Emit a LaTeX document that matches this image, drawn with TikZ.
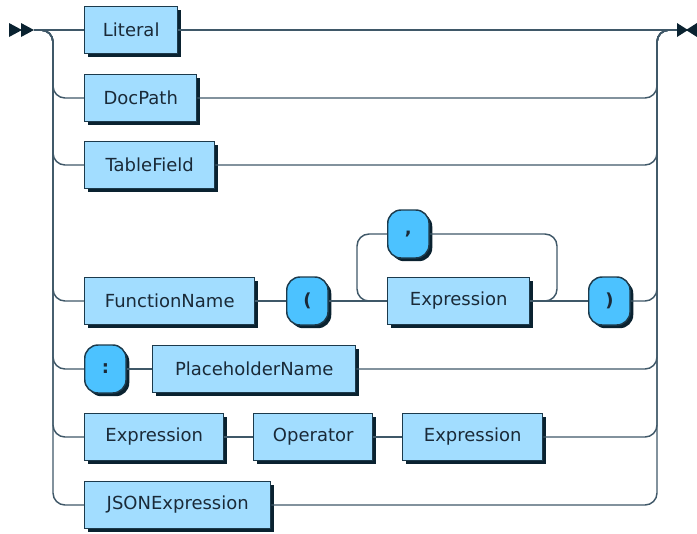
\documentclass[tikz,border=0pt]{standalone}
\usepackage{fontspec}
\setmainfont{DejaVu Sans}
\usetikzlibrary{shadows}
\definecolor{boxfill}{HTML}{A2DDFF}
\definecolor{tokfill}{HTML}{4CC2FF}
\definecolor{edgecol}{HTML}{1C3A4C}
\definecolor{railcol}{HTML}{3F5868}
\definecolor{shadecol}{HTML}{0A2230}
\definecolor{txtcol}{HTML}{1A2A38}
\begin{document}
\begin{tikzpicture}[x=0.75pt,y=-0.75pt,
  railline/.style={draw=railcol,line width=1.1pt,rounded corners=9pt},
  ntbox/.style={draw=edgecol,fill=boxfill,line width=1.1pt,anchor=west,
    minimum height=35.25pt,inner sep=0pt,text=txtcol,
    font=\fontsize{13.5}{16}\selectfont,
    drop shadow={shadow xshift=2.4pt,shadow yshift=-2.4pt,fill=shadecol,opacity=1}},
  tkbox/.style={draw=edgecol,fill=tokfill,line width=1.1pt,anchor=west,
    minimum height=36pt,minimum width=31pt,inner sep=0pt,rounded corners=10pt,text=txtcol,
    font=\fontsize{13.5}{16}\selectfont,
    drop shadow={shadow xshift=2.4pt,shadow yshift=-2.4pt,fill=shadecol,opacity=1}},
  marker/.style={fill=shadecol,draw=none}]
\useasboundingbox (0,0) rectangle (697,533);

% nodes
\node[ntbox,minimum width=69.75pt] (lit) at (84,30) {Literal};
\node[ntbox,minimum width=84pt] (doc) at (84,98) {DocPath};
\node[ntbox,minimum width=97.5pt] (tab) at (84,165) {TableField};
\node[ntbox,minimum width=127.5pt] (fn) at (84,301) {FunctionName};
\node[tkbox] (lp) at (286,301) {\textbf{(}};
\node[ntbox,minimum width=106.5pt] (fex) at (387,301) {Expression};
\node[tkbox] (comma) at (387,234) {\textbf{,}};
\node[tkbox] (rp) at (588,301) {\textbf{)}};
\node[tkbox] (colon) at (84,369) {\textbf{:}};
\node[ntbox,minimum width=152.25pt] (ph) at (152,369) {PlaceholderName};
\node[ntbox,minimum width=104.25pt] (exa) at (84,437) {Expression};
\node[ntbox,minimum width=89.25pt] (op) at (253,437) {Operator};
\node[ntbox,minimum width=105pt] (exb) at (402,437) {Expression};
\node[ntbox,minimum width=139.5pt] (json) at (84,505) {JSONExpression};

% coordinates
\coordinate (start) at (34,30);
\coordinate (split) at (41,30);
\coordinate (rtop) at (657,30);
\coordinate (join) at (669,30);
\coordinate (finish) at (677,30);
\coordinate (loopl) at (357,301);
\coordinate (loopr) at (557,234);

% start / end markers
\fill[marker] (9,23) -- (22,30) -- (9,37) -- cycle;
\fill[marker] (21,23) -- (34,30) -- (21,37) -- cycle;
\fill[marker] (677,23) -- (688,30) -- (677,37) -- cycle;
\fill[marker] (697,23) -- (686,30) -- (697,37) -- cycle;

% main line
\draw[railline] (start) -- (lit.west);
\draw[railline] (lit.east) -- (finish);

% left branches
\foreach \n in {doc,tab,fn,colon,exa,json}
  \draw[railline] (split) -- ++(12,0) |- (\n.west);

% right branches
\foreach \n in {doc,tab,rp,ph,exb,json}
  \draw[railline] (\n.east) -| (rtop) -- (join);

% function row
\draw[railline] (fn.east) -- (lp.west);
\draw[railline] (lp.east) -- (fex.west);
\draw[railline] (fex.east) -- (rp.west);
\draw[railline] (fex.east) -| (loopr) -- (comma.east);
\draw[railline] (comma.west) -| (loopl) -- (fex.west);

% placeholder row
\draw[railline] (colon.east) -- (ph.west);

% binary row
\draw[railline] (exa.east) -- (op.west);
\draw[railline] (op.east) -- (exb.west);
\end{tikzpicture}
\end{document}
